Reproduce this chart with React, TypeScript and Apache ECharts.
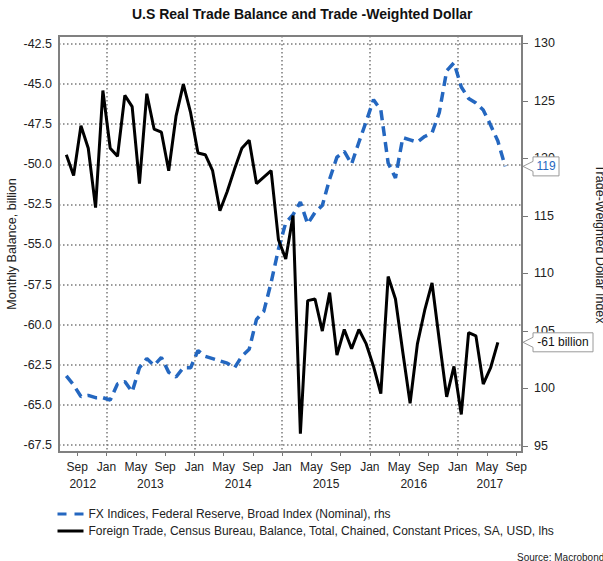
import React, { useEffect, useRef } from "react";
import * as echarts from "echarts";

// ---- data (monthly) ----
const fxStart = "2012-07";
const fxIndex = [
  101.1, 100.3, 99.3, 99.4, 99.2, 99.2,
  99.0, 100.4, 100.6, 99.7, 101.8, 102.6, 102.0, 102.7, 101.4, 101.0, 101.8, 101.8,
  103.3, 102.8, 102.6, 102.4, 102.2, 101.8, 102.8, 103.4, 106.0, 106.7, 109.2, 112.1,
  114.4, 115.1, 116.2, 114.3, 115.3, 115.9, 118.2, 120.1, 120.6, 119.5, 121.4, 123.2,
  125.1, 124.2, 119.6, 118.3, 121.8, 121.6, 121.4, 121.9, 122.2, 124.0, 127.6, 128.3,
  126.2, 125.2, 124.8, 124.2, 122.9, 121.5, 119.3,
];
const tradeStart = "2012-07";
const tradeBalance = [
  -49.4, -50.7, -47.6, -49.0, -52.7, -45.4,
  -49.0, -49.5, -45.7, -46.4, -51.2, -45.6, -47.8, -48.0, -50.4, -47.0, -45.0, -46.8,
  -49.3, -49.4, -50.4, -52.9, -51.7, -50.3, -49.0, -48.5, -51.2, -50.8, -50.4, -54.7,
  -55.9, -53.2, -66.8, -58.5, -58.4, -60.4, -58.0, -61.9, -60.3, -61.5, -60.3, -61.2,
  -62.6, -64.3, -57.0, -58.4, -61.7, -64.9, -61.2, -59.1, -57.4, -61.0, -64.5, -62.6,
  -65.6, -60.5, -60.7, -63.7, -62.7, -61.1,
];

const xTickMonths = [
  "2012-09", "2013-01", "2013-05", "2013-09", "2014-01", "2014-05", "2014-09",
  "2015-01", "2015-05", "2015-09", "2016-01", "2016-05", "2016-09",
  "2017-01", "2017-05", "2017-09",
];
const gridMonths = ["2013-01", "2014-01", "2015-01", "2016-01", "2017-01"];
const yearLabels = ["2012", "2013", "2014", "2015", "2016", "2017"];
const monthNames = ["Jan", "Feb", "Mar", "Apr", "May", "Jun", "Jul", "Aug", "Sep", "Oct", "Nov", "Dec"];
const leftTicks = [-67.5, -65, -62.5, -60, -57.5, -55, -52.5, -50, -47.5, -45, -42.5];
const rightTicks = [95, 100, 105, 110, 115, 120, 125, 130];

const LEFT_NAME = "Monthly Balance, billion";
const RIGHT_NAME = "Trade-Weighted Dollar Index";
const FX_NAME = "FX Indices, Federal Reserve, Broad Index (Nominal), rhs";
const TRADE_NAME = "Foreign Trade, Census Bureau, Balance, Total, Chained, Constant Prices, SA, USD, lhs";

// axis extents (months since Jan 2012; values)
const xMin = 5.5;
const xMax = 68.8;
const leftMin = -67.94;
const leftMax = -42.0;
const rightMin = 94.48;
const rightMax = 130.63;

const BASE_YEAR = 2012;
const monthIdx = (s: string) => {
  const [y, m] = s.split("-").map(Number);
  return (y - BASE_YEAR) * 12 + (m - 1);
};
const series = (start: string, vals: number[]) =>
  vals.map((v, i) => [monthIdx(start) + i + 0.5, v]);

const FONT = "'Liberation Sans', Arial, sans-serif";
const BLUE = "#2467c0";
const GRID = { left: 59, top: 36, width: 463, height: 416 };

export default function App() {
  const ref = useRef<HTMLDivElement>(null);
  useEffect(() => {
    if (!ref.current) return;
    const chart = echarts.init(ref.current, undefined, { renderer: "svg" });
    const xTicks = xTickMonths.map(monthIdx);
    const gridX = gridMonths.map(monthIdx);
    const yearPos = yearLabels.map((y) => {
      const s = (Number(y) - BASE_YEAR) * 12;
      return (Math.max(s, xMin) + Math.min(s + 12, xMax)) / 2;
    });
    const gridLine = { type: [1.5, 2.5], color: "#7a7a7a", width: 1.5 };
    const option: any = {
      animation: false,
      textStyle: { fontFamily: FONT },
      title: {
        text: "U.S Real Trade Balance and Trade -Weighted Dollar",
        left: 132,
        top: 7,
        padding: 0,
        textStyle: { fontSize: 14, fontWeight: "bold", color: "#111", fontFamily: FONT },
      },
      grid: { ...GRID, containLabel: false, outerBoundsMode: "none" },
      legend: {
        orient: "vertical",
        left: 51,
        top: 503,
        itemWidth: 26,
        itemHeight: 14,
        itemGap: 5,
        selectedMode: false,
        lineStyle: { width: 3 },
        itemStyle: { color: "rgba(0,0,0,0)", borderWidth: 0, opacity: 0 },
        textStyle: { fontSize: 12, color: "#222", fontFamily: FONT },
        data: [
          { name: FX_NAME, lineStyle: { type: [9, 8], width: 3 } },
          { name: TRADE_NAME, lineStyle: { width: 3 } },
        ],
      },
      xAxis: [
        {
          type: "value",
          min: xMin,
          max: xMax,
          position: "bottom",
          axisLine: { show: false },
          axisTick: { show: true, length: 4, customValues: xTicks, lineStyle: { color: "#777", width: 1 } },
          axisLabel: {
            customValues: xTicks,
            margin: 9,
            fontSize: 12,
            color: "#222",
            fontFamily: FONT,
            formatter: (v: number) => monthNames[((Math.round(v) % 12) + 12) % 12],
          },
          splitLine: { show: false },
        },
        {
          type: "value",
          min: xMin,
          max: xMax,
          position: "bottom",
          offset: 17,
          axisLine: { show: false },
          axisTick: { show: false },
          axisLabel: {
            customValues: yearPos,
            margin: 9,
            fontSize: 12,
            color: "#222",
            fontFamily: FONT,
            formatter: (v: number) => String(BASE_YEAR + Math.floor(v / 12)),
          },
          splitLine: { show: false },
        },
        {
          type: "value",
          min: xMin,
          max: xMax,
          position: "top",
          axisLine: { show: false },
          axisTick: { show: false, customValues: gridX },
          axisLabel: { show: false, customValues: gridX },
          splitLine: { show: true, lineStyle: gridLine },
        },
      ],
      yAxis: [
        {
          type: "value",
          position: "left",
          min: leftMin,
          max: leftMax,
          axisLine: { show: false },
          axisTick: { show: false, customValues: leftTicks },
          axisLabel: {
            customValues: leftTicks,
            margin: 7,
            fontSize: 12.5,
            color: "#222",
            fontFamily: FONT,
            formatter: (v: number) => v.toFixed(1),
          },
          splitLine: { show: true, lineStyle: gridLine },
        },
        {
          type: "value",
          position: "right",
          min: rightMin,
          max: rightMax,
          axisLine: { show: false },
          axisTick: { show: true, length: 6, customValues: rightTicks, lineStyle: { color: "#777", width: 1 } },
          axisLabel: {
            customValues: rightTicks,
            margin: 12,
            fontSize: 12.5,
            color: "#222",
            fontFamily: FONT,
          },
          splitLine: { show: false },
        },
      ],
      series: [
        {
          name: FX_NAME,
          type: "line",
          xAxisIndex: 0,
          yAxisIndex: 1,
          data: series(fxStart, fxIndex),
          symbol: "none",
          showSymbol: false,
          z: 2,
          lineStyle: { color: BLUE, width: 3.5, type: [10, 6] },
          itemStyle: { color: BLUE },
        },
        {
          name: TRADE_NAME,
          type: "line",
          xAxisIndex: 0,
          yAxisIndex: 0,
          data: series(tradeStart, tradeBalance),
          symbol: "none",
          showSymbol: false,
          z: 3,
          lineStyle: { color: "#000", width: 3 },
          itemStyle: { color: "#000" },
        },
      ],
    };
    chart.setOption(option);

    const xEdge = chart.convertToPixel({ xAxisIndex: 0 }, xMax) as number;
    const fxLast = fxIndex[fxIndex.length - 1];
    const trLast = tradeBalance[tradeBalance.length - 1];
    const yFx = chart.convertToPixel({ yAxisIndex: 1 }, fxLast) as number;
    const yTr = chart.convertToPixel({ yAxisIndex: 0 }, trLast) as number;
    const midY = GRID.top + GRID.height / 2;

    const callout = (y: number, w: number, text: string, color: string) => {
      const tip = xEdge + 1;
      const b = xEdge + 11;
      return [
        {
          type: "polygon",
          z: 100,
          shape: {
            points: [
              [tip, y],
              [b, y - 5],
              [b, y - 9.5],
              [b + w, y - 9.5],
              [b + w, y + 9.5],
              [b, y + 9.5],
              [b, y + 5],
            ],
          },
          style: { fill: "#fff", stroke: "#9a9a9a", lineWidth: 1 },
        },
        {
          type: "text",
          z: 101,
          x: b + w / 2,
          y: y,
          style: {
            text,
            fill: color,
            fontSize: 12,
            fontFamily: FONT,
            align: "center",
            verticalAlign: "middle",
            textAlign: "center",
            textVerticalAlign: "middle",
          },
        },
      ];
    };

    const axisName = (text: string, x: number, rotation: number) => ({
      type: "text",
      x,
      y: midY,
      rotation,
      style: {
        text,
        fill: "#222",
        fontSize: 12.5,
        fontFamily: FONT,
        align: "center",
        verticalAlign: "middle",
        textAlign: "center",
        textVerticalAlign: "middle",
      },
    });

    chart.setOption({
      graphic: [
        {
          type: "rect",
          z: 50,
          shape: { x: GRID.left, y: GRID.top, width: GRID.width, height: GRID.height },
          style: { fill: "none", stroke: "#808080", lineWidth: 2 },
          silent: true,
        },
        axisName(LEFT_NAME, 12, Math.PI / 2),
        axisName(RIGHT_NAME, 600, -Math.PI / 2),
        ...callout(yFx, 26, String(Math.round(fxLast)), BLUE),
        ...callout(yTr, 60, `${Math.round(trLast)} billion`, "#111"),
        {
          type: "text",
          left: 517,
          top: 552,
          style: { text: "Source: Macrobond", fill: "#222", fontSize: 10, fontFamily: FONT },
        },
      ],
    });

    return () => chart.dispose();
  }, []);
  return (
    <div
      ref={ref}
      style={{ position: "fixed", left: 0, top: 0, width: 603, height: 561, background: "#fff" }}
    />
  );
}
